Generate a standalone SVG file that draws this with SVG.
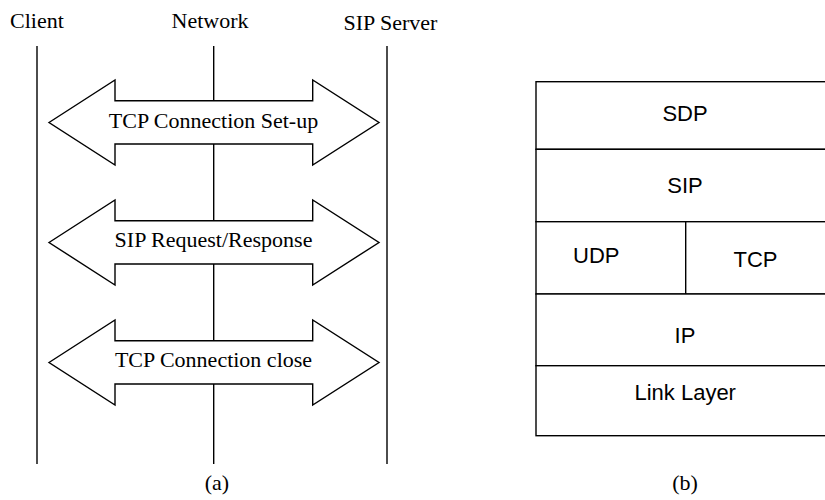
<svg xmlns="http://www.w3.org/2000/svg" width="825" height="500" viewBox="0 0 825 500">
<style>
.serif{font-family:"Liberation Serif","Times New Roman",serif;font-size:22px;fill:#000}
.sans{font-family:"Liberation Sans",Arial,sans-serif;font-size:22px;fill:#000;text-anchor:middle}
.ln{stroke:#000;stroke-width:1.4;fill:none}
.arrow{fill:#fff;stroke:#000;stroke-width:1.4;stroke-linejoin:miter}
.box{fill:#fff;stroke:#000;stroke-width:1.4}
</style>
<defs>
<polygon id="dblarrow" points="49,42.5 115,0 115,20.7 312.7,20.7 312.7,0 379,42.5 312.7,85 312.7,64 115,64 115,85"/>
</defs>
<rect width="825" height="500" fill="#fff"/>
<g id="client">
<text class="serif" x="10" y="28">Client</text>
<line class="ln" x1="37" y1="46" x2="37" y2="464"/>
</g>
<g id="network">
<text class="serif" x="210" y="28" text-anchor="middle">Network</text>
<line class="ln" x1="213.7" y1="46" x2="213.7" y2="464"/>
</g>
<g id="sip-server">
<text class="serif" x="343.5" y="30">SIP Server</text>
<line class="ln" x1="387" y1="46" x2="387" y2="464"/>
</g>
<g id="connectors">
<g id="tcp-setup">
<use href="#dblarrow" class="arrow" transform="translate(0,80)"/>
<text class="serif" x="213.5" y="128" text-anchor="middle">TCP Connection Set-up</text>
</g>
<g id="sip-reqresp">
<use href="#dblarrow" class="arrow" transform="translate(0,200)"/>
<text class="serif" x="213.5" y="247" text-anchor="middle">SIP Request/Response</text>
</g>
<g id="tcp-close">
<use href="#dblarrow" class="arrow" transform="translate(0,320)"/>
<text class="serif" x="213.5" y="366.5" text-anchor="middle">TCP Connection close</text>
</g>
</g>
<text id="label-a" class="serif" x="217" y="490" text-anchor="middle">(a)</text>
<g id="stack">
<g id="sdp">
<rect class="box" x="536" y="81.7" width="300" height="67.6"/>
<text class="sans" x="685" y="121">SDP</text>
</g>
<g id="sip">
<rect class="box" x="536" y="149.3" width="300" height="72.4"/>
<text class="sans" x="685" y="193.3">SIP</text>
</g>
<g id="udp">
<rect class="box" x="536" y="221.7" width="149.7" height="72.3"/>
<text class="sans" x="596.3" y="262.7">UDP</text>
</g>
<g id="tcp">
<rect class="box" x="685.7" y="221.7" width="150" height="72.3"/>
<text class="sans" x="755.5" y="267.3">TCP</text>
</g>
<g id="ip">
<rect class="box" x="536" y="294" width="300" height="71.7"/>
<text class="sans" x="685" y="343.3">IP</text>
</g>
<g id="link-layer">
<rect class="box" x="536" y="365.7" width="300" height="70"/>
<text class="sans" x="685.2" y="400">Link Layer</text>
</g>
</g>
<text id="label-b" class="serif" x="685" y="490" text-anchor="middle">(b)</text>
</svg>
